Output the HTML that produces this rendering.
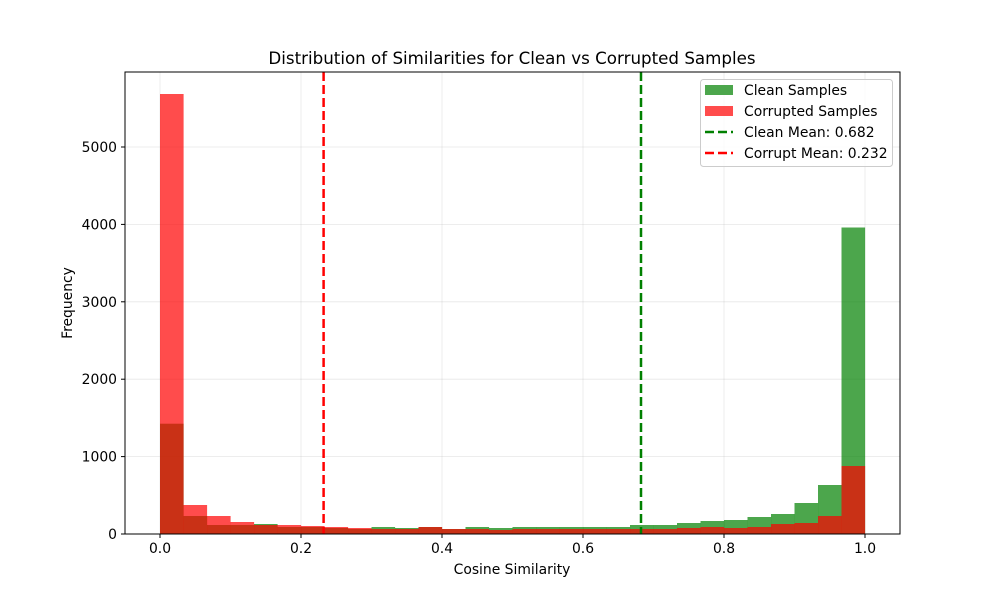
<!DOCTYPE html>
<html><head><meta charset="utf-8"><style>body{margin:0;background:#fff}svg{display:block}text{font-family:"DejaVu Sans","Liberation Sans",sans-serif;fill:#000}</style></head><body>
<svg width="1000" height="600" viewBox="0 0 1000 600" xmlns="http://www.w3.org/2000/svg">
<rect width="1000" height="600" fill="#fff"/>
<g stroke="#b0b0b0" stroke-opacity="0.3" stroke-width="0.8">
<line x1="160" y1="72" x2="160" y2="534"/><line x1="301" y1="72" x2="301" y2="534"/><line x1="442" y1="72" x2="442" y2="534"/><line x1="583" y1="72" x2="583" y2="534"/><line x1="724" y1="72" x2="724" y2="534"/><line x1="865" y1="72" x2="865" y2="534"/>
<line x1="125" y1="456.6" x2="900" y2="456.6"/><line x1="125" y1="379.2" x2="900" y2="379.2"/><line x1="125" y1="301.8" x2="900" y2="301.8"/><line x1="125" y1="224.4" x2="900" y2="224.4"/><line x1="125" y1="147" x2="900" y2="147"/>
</g>
<g id="bars"></g>
<line x1="641" y1="72" x2="641" y2="534" stroke="#008000" stroke-width="2.5" stroke-dasharray="9,4"/>
<line x1="323.6" y1="72" x2="323.6" y2="534" stroke="#ff0000" stroke-width="2.5" stroke-dasharray="9,4"/>
<rect x="125" y="72" width="775" height="462" fill="none" stroke="#000" stroke-width="1"/>
<g stroke="#000"><line x1="160" y1="534" x2="160" y2="538"/><line x1="301" y1="534" x2="301" y2="538"/><line x1="442" y1="534" x2="442" y2="538"/><line x1="583" y1="534" x2="583" y2="538"/><line x1="724" y1="534" x2="724" y2="538"/><line x1="865" y1="534" x2="865" y2="538"/>
<line x1="121" y1="534" x2="125" y2="534"/><line x1="121" y1="456.6" x2="125" y2="456.6"/><line x1="121" y1="379.2" x2="125" y2="379.2"/><line x1="121" y1="301.8" x2="125" y2="301.8"/><line x1="121" y1="224.4" x2="125" y2="224.4"/><line x1="121" y1="147" x2="125" y2="147"/></g>
<g font-size="13.9" text-anchor="middle"><text x="160" y="553">0.0</text><text x="301" y="553">0.2</text><text x="442" y="553">0.4</text><text x="583" y="553">0.6</text><text x="724" y="553">0.8</text><text x="865" y="553">1.0</text></g>
<g font-size="13.9" text-anchor="end"><text x="117" y="539">0</text><text x="117" y="461.6">1000</text><text x="117" y="384.2">2000</text><text x="117" y="306.8">3000</text><text x="117" y="229.4">4000</text><text x="117" y="152">5000</text></g>
<text x="512" y="574" font-size="13.9" text-anchor="middle">Cosine Similarity</text>
<text x="72" y="303" font-size="13.9" text-anchor="middle" transform="rotate(-90 72 303)">Frequency</text>
<text x="512" y="64" font-size="16.7" text-anchor="middle">Distribution of Similarities for Clean vs Corrupted Samples</text>
<rect x="700.5" y="79.5" width="192" height="87" rx="3" fill="#fff" fill-opacity="0.8" stroke="#ccc"/>
<rect x="705" y="85" width="28" height="10" fill="#008000" fill-opacity="0.7"/>
<rect x="705" y="106" width="28" height="10" fill="#ff0000" fill-opacity="0.7"/>
<line x1="705" y1="132" x2="733" y2="132" stroke="#008000" stroke-width="2.5" stroke-dasharray="9,4"/>
<line x1="705" y1="153" x2="733" y2="153" stroke="#ff0000" stroke-width="2.5" stroke-dasharray="9,4"/>
<g font-size="13.9"><text x="744" y="95">Clean Samples</text><text x="744" y="116">Corrupted Samples</text><text x="744" y="137">Clean Mean: 0.682</text><text x="744" y="158">Corrupt Mean: 0.232</text></g>
</svg>
<script>
var c=[423.7,516,525,525,524,527,527,528,529,527,528,527,529,527,528,527,527,527,527,527,525,525,523,521,520,517,514,503,485,227.5];
var r=[94,505,516,522,525,525,526,527,528,529,529,527,529,529,530,529,529,529,529,529,529,529,528,527,528,527,524,523,516,466];
var g=document.getElementById('bars'),h='';
c.forEach(function(t,i){h+='<rect x="'+(160+23.5*i)+'" y="'+t+'" width="23.6" height="'+(534-t)+'" fill="#008000" fill-opacity="0.7"/>';});
r.forEach(function(t,i){h+='<rect x="'+(160+23.5*i)+'" y="'+t+'" width="23.6" height="'+(534-t)+'" fill="#ff0000" fill-opacity="0.7"/>';});
g.innerHTML=h;
</script>
</body></html>
